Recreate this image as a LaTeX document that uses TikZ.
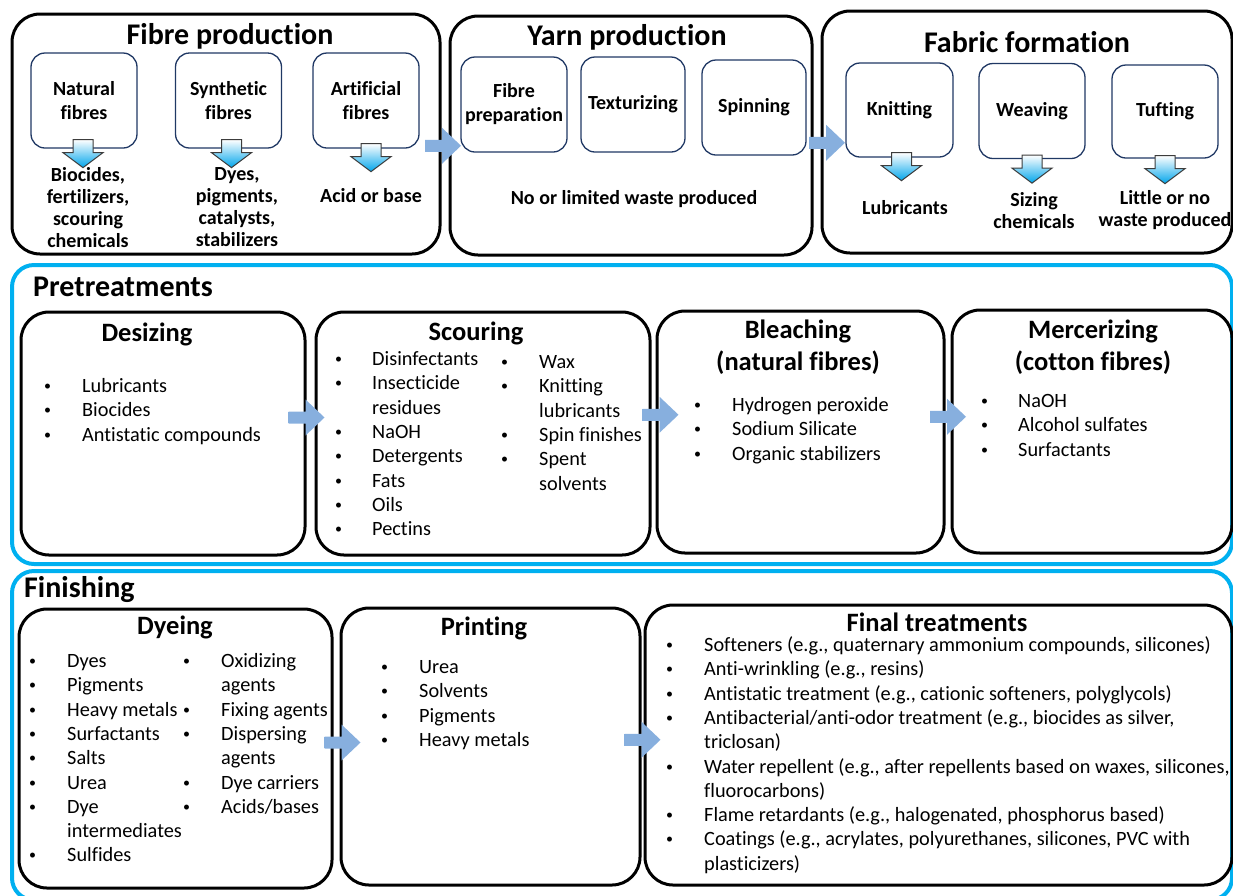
\documentclass[tikz,border=0pt]{standalone}
\usepackage{fontspec}
\setmainfont{Carlito}[Ligatures=NoCommon]
\usetikzlibrary{calc}

\definecolor{framecyan}{RGB}{0,176,240}
\definecolor{boxnavy}{RGB}{32,56,100}
\definecolor{dropcyan}{RGB}{0,165,235}
\definecolor{dropmid}{RGB}{110,205,245}
\definecolor{dropedge}{RGB}{60,60,60}
\definecolor{flowlight}{RGB}{135,175,222}
\definecolor{flowdark}{RGB}{70,115,170}

\newcommand{\chembullet}{\raisebox{2pt}{\fontsize{14}{14}\selectfont\textbullet}}

\tikzset{
  phase/.style={draw=framecyan, line width=4pt, rounded corners=22pt, inner sep=0pt},
  stage/.style={draw=black, line width=3pt, rounded corners=28pt, inner sep=0pt},
  substep/.style={draw=boxnavy, line width=1.3pt, rounded corners=14pt, fill=white,
    minimum width=106pt, minimum height=95pt, align=center,
    font=\bfseries\fontsize{20}{24}\selectfont},
  maintitle/.style={inner sep=0pt, font=\bfseries\fontsize{30}{36}\selectfont},
  boxtitle/.style={inner sep=0pt, align=center, font=\bfseries\fontsize{26.5}{32}\selectfont},
  waste/.style={inner sep=0pt, align=center, font=\bfseries\fontsize{20}{22}\selectfont},
  chemlist/.style={anchor=base west, inner sep=0pt, font=\fontsize{20.3}{24.3}\selectfont},
  dropfill/.style={top color=white, middle color=dropmid, bottom color=dropcyan,
    draw=dropedge, line width=1pt},
  flowfill/.style={left color=flowlight, middle color=flowdark, right color=flowlight}
}

\begin{document}
\begin{tikzpicture}[x=1pt, y=-1pt]
\clip (0,0) rectangle (1233,895);

% Phase frames
\node[phase, minimum width=1220pt, minimum height=299pt] (pretreat) at (622,414.5) {};
\node[phase, minimum width=1220pt, minimum height=329pt] (finishing) at (622,735.5) {};
\node[maintitle, anchor=west] (pretitle) at (33,287) {Pretreatments};
\node[maintitle, anchor=west] (fintitle) at (24,590) {Finishing};

% Top row: fibre, yarn and fabric stages
\node[stage, minimum width=428pt, minimum height=240pt] (fibre) at (226,134) {};
\node[stage, minimum width=362pt, minimum height=239pt] (yarn) at (631,135.5) {};
\node[stage, minimum width=410pt, minimum height=242pt] (fabric) at (1027,132) {};
\node[maintitle] (fibretitle) at (230,36) {Fibre production};
\node[maintitle] (yarntitle) at (627,37) {Yarn production};
\node[maintitle] (fabrictitle) at (1027,42) {Fabric formation};

\node[substep] (natural) at (84,100.5) {Natural\\fibres};
\node[substep] (synthetic) at (228.5,100.5) {Synthetic\\fibres};
\node[substep] (artificial) at (366,100.5) {Artificial\\fibres};
\node[substep] (fibreprep) at (514,104.5) {Fibre\\preparation};
\node[substep, minimum width=104pt] (texturizing) at (633,104.5) {Texturizing};
\node[substep, minimum width=104pt] (spinning) at (754,107.5) {Spinning};
\node[substep, minimum width=107pt, minimum height=94pt] (knitting) at (899.5,110) {Knitting};
\node[substep] (weaving) at (1032,111) {Weaving};
\node[substep, minimum height=93pt] (tufting) at (1165,111.5) {Tufting};

% Waste of each step
\node[waste] (naturalout) at (88,208) {Biocides,\\fertilizers,\\scouring\\chemicals};
\node[waste] (syntheticout) at (237,207) {Dyes,\\pigments,\\catalysts,\\stabilizers};
\node[waste] (artificialout) at (371,196) {Acid or base};
\node[waste] (yarnout) at (634,199) {No or limited waste produced};
\node[waste] (knittingout) at (905,208) {Lubricants};
\node[waste] (weavingout) at (1034,210.5) {Sizing\\chemicals};
\node[waste] (tuftingout) at (1165,210.5) {Little or no\\waste produced};

% Pretreatments
\node[stage, minimum width=284pt, minimum height=243pt] (desizing) at (163,433.5) {};
\node[stage, minimum width=334pt, minimum height=243pt] (scouring) at (483,433.5) {};
\node[stage, minimum width=287pt, minimum height=242pt] (bleaching) at (800.5,432) {};
\node[stage, minimum width=280pt, minimum height=243pt] (mercerizing) at (1092,431.5) {};
\node[boxtitle] (desizingtitle) at (147,334) {Desizing};
\node[boxtitle] (scouringtitle) at (476,333) {Scouring};
\node[boxtitle] (bleachingtitle) at (798,347) {Bleaching\\(natural fibres)};
\node[boxtitle] (mercerizingtitle) at (1093,347) {Mercerizing\\(cotton fibres)};

\node[chemlist] (desizinglist) at (44,392.5) {\begin{tabular}[t]{@{}p{38pt}@{}l@{}}
\chembullet & Lubricants\\
\chembullet & Biocides\\
\chembullet & Antistatic compounds
\end{tabular}};
\node[chemlist] (scouringlist) at (335,365.5) {\begin{tabular}[t]{@{}p{37pt}@{}l@{}}
\chembullet & Disinfectants\\
\chembullet & Insecticide\\
 & residues\\
\chembullet & NaOH\\
\chembullet & Detergents\\
\chembullet & Fats\\
\chembullet & Oils\\
\chembullet & Pectins
\end{tabular}};
\node[chemlist] (scouringlisttwo) at (501,368.5) {\begin{tabular}[t]{@{}p{38pt}@{}l@{}}
\chembullet & Wax\\
\chembullet & Knitting\\
 & lubricants\\
\chembullet & Spin finishes\\
\chembullet & Spent\\
 & solvents
\end{tabular}};
\node[chemlist] (bleachinglist) at (694,411.5) {\begin{tabular}[t]{@{}p{38pt}@{}l@{}}
\chembullet & Hydrogen peroxide\\
\chembullet & Sodium Silicate\\
\chembullet & Organic stabilizers
\end{tabular}};
\node[chemlist] (mercerizinglist) at (981,407.5) {\begin{tabular}[t]{@{}p{37pt}@{}l@{}}
\chembullet & NaOH\\
\chembullet & Alcohol sulfates\\
\chembullet & Surfactants
\end{tabular}};

% Finishing
\node[stage, minimum width=313pt, minimum height=279pt] (dyeing) at (175.5,748.5) {};
\node[stage, minimum width=299pt, minimum height=277pt] (printing) at (490.5,746.5) {};
\node[stage, minimum width=587pt, minimum height=280pt] (final) at (938.5,745) {};
\node[boxtitle] (dyeingtitle) at (175,627) {Dyeing};
\node[boxtitle] (printingtitle) at (484,628) {Printing};
\node[boxtitle] (finaltitle) at (937,622) {Final treatments};

\node[chemlist] (dyeinglist) at (29,667.5) {\begin{tabular}[t]{@{}p{38pt}@{}l@{}}
\chembullet & Dyes\\
\chembullet & Pigments\\
\chembullet & Heavy metals\\
\chembullet & Surfactants\\
\chembullet & Salts\\
\chembullet & Urea\\
\chembullet & Dye\\
 & intermediates\\
\chembullet & Sulfides
\end{tabular}};
\node[chemlist] (dyeinglisttwo) at (183,667.5) {\begin{tabular}[t]{@{}p{38pt}@{}l@{}}
\chembullet & Oxidizing\\
 & agents\\
\chembullet & Fixing agents\\
\chembullet & Dispersing\\
 & agents\\
\chembullet & Dye carriers\\
\chembullet & Acids/bases
\end{tabular}};
\node[chemlist] (printinglist) at (381,673.5) {\begin{tabular}[t]{@{}p{38pt}@{}l@{}}
\chembullet & Urea\\
\chembullet & Solvents\\
\chembullet & Pigments\\
\chembullet & Heavy metals
\end{tabular}};
\node[chemlist] (finallist) at (666,651.5) {\begin{tabular}[t]{@{}p{38pt}@{}l@{}}
\chembullet & Softeners (e.g., quaternary ammonium compounds, silicones)\\
\chembullet & Anti-wrinkling (e.g., resins)\\
\chembullet & Antistatic treatment (e.g., cationic softeners, polyglycols)\\
\chembullet & Antibacterial/anti-odor treatment (e.g., biocides as silver,\\
 & triclosan)\\
\chembullet & Water repellent (e.g., after repellents based on waxes, silicones,\\
 & fluorocarbons)\\
\chembullet & Flame retardants (e.g., halogenated, phosphorus based)\\
\chembullet & Coatings (e.g., acrylates, polyurethanes, silicones, PVC with\\
 & plasticizers)
\end{tabular}};

% Down arrows from the steps to their waste
\foreach \n/\dx/\dy in {natural/-1/-9, synthetic/3/-9, artificial/5/-5,
                        knitting/2/-5, weaving/0/-4, tufting/0/-3}
  \shade[dropfill, shift={($(\n.south)+(\dx,\dy)$)}]
    (-10,0) -- (10,0) -- (10,13) -- (20,13) -- (0,28) -- (-20,13) -- (-10,13) -- cycle;

% Flow arrows between stages
\foreach \a/\b/\dx/\dy in {fibre/yarn/-2/11, yarn/fabric/10/9,
                           desizing/scouring/-4/-16, scouring/bleaching/7/-18,
                           bleaching/mercerizing/0/-15,
                           dyeing/printing/6/-5, printing/final/0/-6}
  \shade[flowfill, shift={($(\a.east)!0.5!(\b.west)+(\dx,\dy)$)}]
    (-18,-6) -- (-1,-6) -- (-1,-18) -- (18,0) -- (-1,18) -- (-1,6) -- (-18,6) -- cycle;

\end{tikzpicture}
\end{document}
